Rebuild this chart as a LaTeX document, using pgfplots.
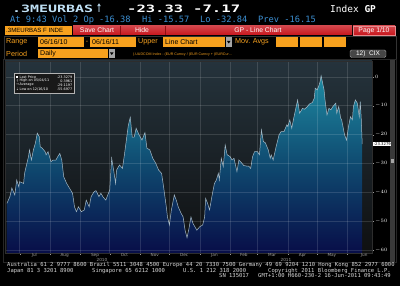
\documentclass[border=0pt]{standalone}
\usepackage{pgfplots}
\usepackage{pgfplotstable}
\pgfplotsset{compat=1.18}
\usepackage{fontspec}
\setmainfont{DejaVu Sans}
\newfontfamily\mono{DejaVu Sans Mono}
\newfontfamily\lsans{Liberation Sans}
\definecolor{bbOrange}{HTML}{F7A11E}
\definecolor{bbRed}{HTML}{C8161D}
\definecolor{bbDarkRed}{HTML}{8E0E12}
\definecolor{bbBlue}{HTML}{3C8FD2}
\definecolor{bbCyan}{HTML}{BFE0F5}
\definecolor{plotTop}{HTML}{25333C}
\definecolor{plotBot}{HTML}{0F1011}
\definecolor{fillTop}{HTML}{1E8AA2}
\definecolor{fillMid}{HTML}{0F4A70}
\definecolor{fillBot}{HTML}{080E48}
\definecolor{lineCol}{HTML}{A5B9C6}
\definecolor{footCol}{HTML}{D8D8D8}

\pgfplotstableread{
day val
2 -43.8
5 -41.5
7 -38.5
10 -40.9
12 -35.7
14 -38.0
15 -36.3
19 -36.9
20 -33.4
24 -27.6
25 -25.3
27 -28.8
29 -25.3
31 -23.0
33 -19.5
35 -20.7
36 -24.2
38 -24.7
41 -25.9
42 -27.0
44 -25.9
47 -29.4
49 -28.8
52 -28.8
54 -27.6
56 -26.5
58 -28.8
60 -34.6
63 -36.9
66 -38.6
69 -40.3
71 -45.0
73 -46.7
75 -45.0
78 -46.7
81 -46.1
83 -42.7
86 -45.0
88 -41.5
91 -39.8
93 -39.4
96 -41.5
98 -40.3
100 -41.5
103 -42.7
105 -40.9
107 -39.2
109 -28.2
111 -32.3
113 -36.9
114 -32.3
117 -30.5
120 -31.7
122 -27.0
126 -16.8
128 -14.0
130 -20.9
132 -20.9
134 -17.8
137 -20.1
140 -21.9
143 -19.3
145 -24.7
148 -25.3
151 -28.2
154 -29.9
157 -32.3
160 -33.4
162 -38.0
165 -45.5
166 -48.5
168 -51.3
170 -46.1
173 -40.9
175 -42.7
177 -45.0
180 -47.3
182 -48.5
184 -53.1
186 -55.7
188 -52.5
190 -48.5
192 -50.7
194 -51.9
196 -53.1
199 -51.9
202 -51.3
204 -48.5
205 -42.1
207 -43.8
209 -46.1
212 -40.3
214 -36.9
216 -35.7
218 -33.4
219 -35.7
221 -28.2
223 -31.1
225 -23.6
227 -27.0
230 -27.6
232 -28.8
234 -28.2
237 -32.8
239 -28.8
242 -29.9
244 -30.7
247 -30.9
249 -30.9
251 -31.7
253 -27.6
255 -25.9
258 -25.9
260 -27.0
262 -18.4
264 -22.4
266 -22.8
269 -25.3
271 -28.2
272 -27.0
274 -28.8
277 -24.2
280 -20.1
282 -19.0
285 -19.0
288 -16.6
289 -17.2
291 -14.9
293 -17.8
295 -14.3
299 -8.0
301 -12.6
304 -10.9
306 -11.2
309 -10.3
311 -9.4
314 -8.9
316 -7.4
317 -3.9
319 -4.5
321 -2.8
322 -1.6
323 0.4
326 -4.5
327 -8.0
329 -13.2
331 -10.9
333 -11.4
335 -10.3
338 -9.1
339 -12.6
341 -10.3
343 -14.3
344 -14.9
347 -20.1
349 -21.9
351 -17.2
353 -13.8
355 -14.9
356 -10.3
358 -8.0
360 -9.1
362 -13.8
363 -8.6
364 -14.3
365 -23.3
}\gpdata

\begin{document}
\begin{tikzpicture}[x=1pt,y=1pt]
\fill[black] (0,0) rectangle (400,-286);

% ---------- header row 1 ----------
\node[anchor=base west, inner sep=0, text=bbCyan] at (12,-12.5)
  {\resizebox{81pt}{7.5pt}{\mono\bfseries .3MEURBAS}};
\node[anchor=base west, inner sep=0, text=bbCyan] at (96,-12.5)
  {\resizebox{6pt}{8.5pt}{\bfseries ↑}};
\node[anchor=base west, inner sep=0, text=white] at (127,-12.5)
  {\resizebox{56pt}{7.5pt}{\mono\bfseries -23.33}};
\node[anchor=base west, inner sep=0, text=white] at (193,-12.5)
  {\resizebox{47pt}{7.5pt}{\mono\bfseries -7.17}};
\node[anchor=base west, inner sep=0, text=white, font=\mono\fontsize{9.5}{9.5}\selectfont] at (330,-12.5)
  {Index \textbf{GP}};

% ---------- header row 2 ----------
\node[anchor=base west, inner sep=0, text=bbBlue, font=\mono\fontsize{8.7}{8.7}\selectfont] at (10,-23)
  {At 9:43 Vol 2 Op -16.38};
\node[anchor=base west, inner sep=0, text=bbBlue, font=\mono\fontsize{8.7}{8.7}\selectfont] at (142,-23)
  {Hi -15.57};
\node[anchor=base west, inner sep=0, text=bbBlue, font=\mono\fontsize{8.7}{8.7}\selectfont] at (200,-23)
  {Lo -32.84};
\node[anchor=base west, inner sep=0, text=bbBlue, font=\mono\fontsize{8.7}{8.7}\selectfont] at (258,-23)
  {Prev -16.15};

% ---------- header row 3 ----------
\fill[bbOrange] (5,-26) rectangle (72,-35);
\node[anchor=west, inner sep=0, text=black, font=\lsans\fontsize{6.1}{6.1}\selectfont] at (6,-30.5) {.3MEURBAS F INDE};
\shade[top color=bbRed!80!white, bottom color=bbRed] (73,-26) rectangle (352,-35);
\draw[bbDarkRed] (120,-26) -- (120,-35) (165,-26) -- (165,-35);
\node[text=white, font=\lsans\fontsize{6.8}{6.8}\selectfont, inner sep=0] at (97,-30.5) {Save Chart};
\node[text=white, font=\lsans\fontsize{6.8}{6.8}\selectfont, inner sep=0] at (142,-30.5) {Hide};
\node[text=white, font=\lsans\fontsize{6.8}{6.8}\selectfont, inner sep=0] at (258,-30.5) {GP - Line Chart};
\shade[top color=bbRed!80!white, bottom color=bbRed, draw=bbRed!50!white] (353,-26) rectangle (395,-35);
\node[text=white, font=\lsans\fontsize{6.8}{6.8}\selectfont, inner sep=0] at (374,-30.5) {Page 1/10};

% ---------- header rows 4-5 ----------
\draw[gray!40!black] (4,-36) rectangle (396,-59);
\node[anchor=west, inner sep=0, text=bbOrange, font=\lsans\fontsize{7.2}{7.2}\selectfont] at (6,-42) {Range};
\fill[bbOrange] (38,-37) rectangle (84,-47);
\node[anchor=west, inner sep=0, font=\lsans\fontsize{7}{7}\selectfont] at (40,-42) {06/16/10};
\node[inner sep=0, text=bbOrange, font=\lsans\fontsize{7}{7}\selectfont] at (87,-42) {-};
\fill[bbOrange] (90,-37) rectangle (136,-47);
\node[anchor=west, inner sep=0, font=\lsans\fontsize{7}{7}\selectfont] at (92,-42) {06/16/11};
\node[anchor=west, inner sep=0, text=bbOrange, font=\lsans\fontsize{7.2}{7.2}\selectfont] at (138,-42) {Upper};
\fill[bbOrange] (163,-37) rectangle (225,-47);
\node[anchor=west, inner sep=0, font=\lsans\fontsize{7}{7}\selectfont] at (165,-42) {Line Chart};
\fill[gray!70] (225.5,-37) rectangle (232,-47);
\fill[black] (227,-41) -- (230.5,-41) -- (228.75,-43.5) -- cycle;
\node[anchor=west, inner sep=0, text=bbOrange, font=\lsans\fontsize{7.2}{7.2}\selectfont] at (235,-42) {Mov. Avgs};
\fill[bbOrange] (276,-37) rectangle (298,-47);
\fill[bbOrange] (300,-37) rectangle (322,-47);
\fill[bbOrange] (324,-37) rectangle (346,-47);

\node[anchor=west, inner sep=0, text=bbOrange, font=\lsans\fontsize{7.2}{7.2}\selectfont] at (6,-53.5) {Period};
\fill[bbOrange] (38,-49) rectangle (108,-58);
\node[anchor=west, inner sep=0, font=\lsans\fontsize{7}{7}\selectfont] at (40,-53.5) {Daily};
\fill[gray!70] (108.5,-49) rectangle (115,-58);
\fill[black] (110,-52.5) -- (113.5,-52.5) -- (111.75,-55) -- cycle;
\node[anchor=west, inner sep=0, text=bbOrange, font=\lsans\fontsize{3.6}{3.6}\selectfont] at (133,-54.5)
  {(.UUDCOM Index - (EUR Curncy / (EUR Curncy + (EURCur\ldots};
\draw[rounded corners=1.5pt, fill=gray!55!black, draw=gray!80] (350,-50) rectangle (386,-57.5);
\node[text=white, font=\lsans\fontsize{6.5}{6.5}\selectfont, inner sep=0] at (368,-53.8) {12)\ \ CIX};

% ---------- chart frame ----------
\draw[gray!30!black] (3,-59.5) rectangle (396,-262);
\fill[gray!45!black] (390,-60) rectangle (394.5,-262);
\fill[gray!70] (390.5,-159) rectangle (394,-163);

\begin{axis}[
  at={(5pt,-253pt)}, anchor=south west,
  scale only axis, width=367pt, height=192pt,
  xmin=0, xmax=375, ymin=-61, ymax=5.5,
  axis background/.style={top color=plotTop, bottom color=plotBot},
  axis line style={gray!35!black},
  axis on top,
  clip mode=individual,
  xtick={15,46,77,107,138,168,199,230,258,289,319,350},
  xticklabels={},
  xtick pos=bottom,
  extra x ticks={30,61,92,122,153,183,214,244,273,304,334,367},
  extra x tick labels={Jul,Aug,Sep,Oct,Nov,Dec,Jan,Feb,Mar,Apr,May,Jun},
  extra x tick style={grid=none, major tick length=0pt},
  xticklabel style={font=\fontsize{4.2}{4.2}\selectfont, text=gray!75, inner sep=0.5pt},
  ytick={0,-10,...,-60},
  minor ytick={-5,-15,...,-55},
  ytick pos=right,
  yticklabel pos=right,
  yticklabel style={font=\fontsize{4.5}{4.5}\selectfont, text=white, inner sep=1pt},
  tick align=outside,
  major tick length=2pt, minor tick length=1.2pt,
  tick style={gray!80},
  xmajorgrids, ymajorgrids,
  grid style={white, opacity=0.13, line width=0.5pt},
]
\addplot[draw=none, top color=fillTop, bottom color=fillBot, middle color=fillMid]
  table[x=day, y=val] {\gpdata} |- (axis cs:2,-61) -- cycle;
\addplot[lineCol, line width=0.5pt] table[x=day, y=val] {\gpdata};
\node[anchor=west, fill=white, text=black, inner sep=0.6pt, font=\fontsize{3.8}{3.8}\selectfont]
  at (axis cs:376,-23.3279) {-23.3279};
\end{axis}

% ---------- legend box ----------
\draw[fill=gray!20!black, draw=gray!60, line width=0.4pt] (14,-73) rectangle (74,-93);
\begin{scope}[every node/.style={inner sep=0, text=white, font=\fontsize{3.4}{3.4}\selectfont}]
\fill[white] (16,-75.8) rectangle (18.2,-78);
\node[anchor=west] at (19.5,-77) {Last Price};
\node[anchor=east] at (72.5,-77) {-23.3279};
\node[anchor=west] at (16,-81) {⇡};
\node[anchor=west] at (19.5,-81) {High on 05/04/11};
\node[anchor=east] at (72.5,-81) {0.3961};
\node[anchor=west] at (16,-85) {→};
\node[anchor=west] at (19.5,-85) {Average};
\node[anchor=east] at (72.5,-85) {-29.1197};
\node[anchor=west] at (16,-89) {⇣};
\node[anchor=west] at (19.5,-89) {Low on 12/16/10};
\node[anchor=east] at (72.5,-89) {-55.6977};
\end{scope}

% ---------- year labels ----------
\node[inner sep=0, text=gray!75, font=\fontsize{4.2}{4.2}\selectfont] at (102,-259.5) {2010};
\node[inner sep=0, text=gray!75, font=\fontsize{4.2}{4.2}\selectfont] at (286,-259.5) {2011};

% ---------- footer ----------
\begin{scope}[every node/.style={inner sep=0, anchor=base west, text=footCol, font=\mono\fontsize{5.5}{5.5}\selectfont}]
\node at (7,-266.5) {Australia 61 2 9777 8600 Brazil 5511 3048 4500 Europe 44 20 7330 7500 Germany 49 69 9204 1210 Hong Kong 852 2977 6000};
\node at (7,-272.5) {Japan 81 3 3201 8900};
\node at (92,-272.5) {Singapore 65 6212 1000};
\node at (183,-272.5) {U.S. 1 212 318 2000};
\node at (268,-272.5) {Copyright 2011 Bloomberg Finance L.P.};
\node at (219,-278) {SN 135017};
\node at (258,-278) {GMT+1:00 H660-230-2 16-Jun-2011 09:43:49};
\end{scope}
\end{tikzpicture}
\end{document}
